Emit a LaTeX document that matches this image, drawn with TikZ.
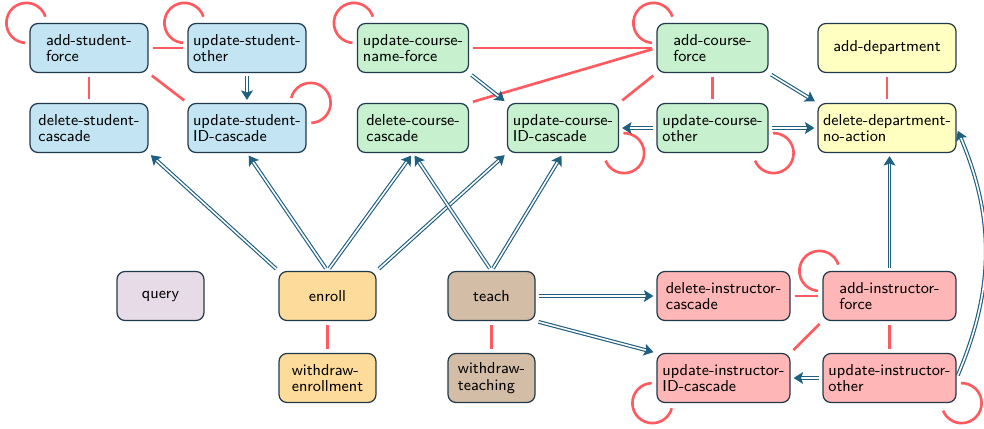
\documentclass[tikz,border=0pt]{standalone}
\usetikzlibrary{arrows.meta}

\definecolor{studentfill}{HTML}{C3E4F3}
\definecolor{coursefill}{HTML}{C6F0CE}
\definecolor{deptfill}{HTML}{FFFFC2}
\definecolor{enrollfill}{HTML}{FDDB9A}
\definecolor{teachfill}{HTML}{D4BDA6}
\definecolor{queryfill}{HTML}{E7DBE7}
\definecolor{instrfill}{HTML}{FFB6B6}
\definecolor{boxline}{HTML}{22394A}
\definecolor{conflict}{HTML}{FF5A5F}
\definecolor{flowblue}{HTML}{1F5F80}

\begin{document}
\begin{tikzpicture}[
        op/.style = {draw = boxline, line width = 0.7pt, rounded corners = 1.6mm,
            align = left, minimum height = 0.98cm, inner xsep = 2pt,
            font = \sffamily\fontsize{9}{9.5}\selectfont},
        student/.style = {op, fill = studentfill, minimum width = 2.36cm},
        course/.style = {op, fill = coursefill, minimum width = 2.22cm},
        dept/.style = {op, fill = deptfill, minimum width = 2.76cm},
        instr/.style = {op, fill = instrfill, minimum width = 2.66cm},
        enr/.style = {op, fill = enrollfill, minimum width = 1.94cm},
        tch/.style = {op, fill = teachfill, minimum width = 1.74cm},
        qry/.style = {op, fill = queryfill, minimum width = 1.74cm},
        clash/.style = {conflict, line width = 1.5pt, shorten < = 0.8mm, shorten > = 0.8mm},
        selfclash/.style = {conflict, line width = 1.5pt},
        flow/.style = {flowblue, line width = 0.65pt, double = white, double distance = 0.9pt,
            -{Stealth[length = 1.9mm, width = 2.4mm, inset = 0.4mm]},
            shorten < = 0.6mm, shorten > = 0.6mm},
    ]
    \useasboundingbox (0, 0) rectangle (19.68, 8.56);

    % student ops
    \node [student] (asf) at (1.78, 7.6) {add-student-\\force};
    \node [student] (uso) at (4.94, 7.6) {update-student-\\other};
    \node [student] (dsc) at (1.78, 6.0) {delete-student-\\cascade};
    \node [student] (usi) at (4.94, 6.0) {update-student-\\ID-cascade};

    % course ops
    \node [course] (ucn) at (8.26, 7.6) {update-course-\\name-force};
    \node [course] (dcc) at (8.26, 6.0) {delete-course-\\cascade};
    \node [course] (uci) at (11.26, 6.0) {update-course-\\ID-cascade};
    \node [course] (acf) at (14.25, 7.6) {add-course-\\force};
    \node [course] (uco) at (14.25, 6.0) {update-course-\\other};

    % department ops
    \node [dept] (ad) at (17.74, 7.6) {add-department};
    \node [dept] (ddn) at (17.74, 6.0) {delete-department-\\no-action};

    % query, enroll, teach
    \node [qry] (q) at (3.21, 2.64) {query};
    \node [enr] (en) at (6.55, 2.64) {enroll};
    \node [enr] (we) at (6.55, 1.0) {withdraw-\\enrollment};
    \node [tch] (te) at (9.83, 2.64) {teach};
    \node [tch] (wt) at (9.83, 1.0) {withdraw-\\teaching};

    % instructor ops
    \node [instr] (dic) at (14.47, 2.64) {delete-instructor-\\cascade};
    \node [instr] (aif) at (17.79, 2.64) {add-instructor-\\force};
    \node [instr] (uii) at (14.47, 1.0) {update-instructor-\\ID-cascade};
    \node [instr] (uio) at (17.79, 1.0) {update-instructor-\\other};

    % conflicts
    \draw [clash] (asf) -- (uso);
    \draw [clash] (asf) -- (dsc);
    \draw [clash] (asf.south east) -- (usi.north west);
    \draw [clash] (ucn) -- (acf);
    \draw [clash] (dcc.north east) -- (acf.west);
    \draw [clash] (uci.north east) -- (acf.south west);
    \draw [clash] (acf) -- (uco);
    \draw [clash] (ad) -- (ddn);
    \draw [clash] (en) -- (we);
    \draw [clash] (te) -- (wt);
    \draw [clash] (dic) -- (aif);
    \draw [clash] (aif.south west) -- (uii.north east);
    \draw [clash] (aif) -- (uio);

    % self conflicts
    \draw [selfclash] ([shift = {(-0.6mm, 0)}] asf.north west) ++(18:4mm) arc [start angle = 18, end angle = 266, radius = 4mm];
    \draw [selfclash] ([shift = {(-0.6mm, 0)}] uso.north west) ++(18:4mm) arc [start angle = 18, end angle = 266, radius = 4mm];
    \draw [selfclash] ([shift = {(-0.6mm, 0)}] ucn.north west) ++(18:4mm) arc [start angle = 18, end angle = 266, radius = 4mm];
    \draw [selfclash] ([shift = {(-0.6mm, 0)}] acf.north west) ++(18:4mm) arc [start angle = 18, end angle = 266, radius = 4mm];
    \draw [selfclash] ([shift = {(-0.6mm, 0)}] aif.north west) ++(18:4mm) arc [start angle = 18, end angle = 266, radius = 4mm];
    \draw [selfclash] ([shift = {(0.8mm, 0)}] usi.north east) ++(166:4mm) arc [start angle = 166, end angle = -88, radius = 4mm];
    \draw [selfclash] ([shift = {(1mm, 0)}] uci.south east) ++(92:4mm) arc [start angle = 92, end angle = -158, radius = 4mm];
    \draw [selfclash] ([shift = {(1mm, 0)}] uco.south east) ++(92:4mm) arc [start angle = 92, end angle = -158, radius = 4mm];
    \draw [selfclash] ([shift = {(1mm, 0)}] uio.south east) ++(92:4mm) arc [start angle = 92, end angle = -158, radius = 4mm];
    \draw [selfclash] ([shift = {(-0.8mm, 0)}] uii.south west) ++(92:4mm) arc [start angle = 92, end angle = 345, radius = 4mm];

    % dependencies
    \draw [flow] (uso) -- (usi);
    \draw [flow] (en.north west) -- (dsc.south east);
    \draw [flow] (en.north) -- (usi.south);
    \draw [flow] (en.north) -- (dcc.south);
    \draw [flow] (en.north east) -- (uci.south west);
    \draw [flow] (te.north) -- (dcc.south);
    \draw [flow] (te.north) -- (uci.south);
    \draw [flow] (ucn.south east) -- (uci.north west);
    \draw [flow] (acf.south east) -- (ddn.north west);
    \draw [flow] (uco) -- (uci);
    \draw [flow] (uco) -- (ddn);
    \draw [flow] (aif.north) -- (aif.north |- ddn.south);
    \draw [flow] (uio.east) to [bend right = 23] (ddn.east);
    \draw [flow] (te) -- (dic);
    \draw [flow] (te.south east) -- (uii.north west);
    \draw [flow] (uio) -- (uii);
\end{tikzpicture}
\end{document}
